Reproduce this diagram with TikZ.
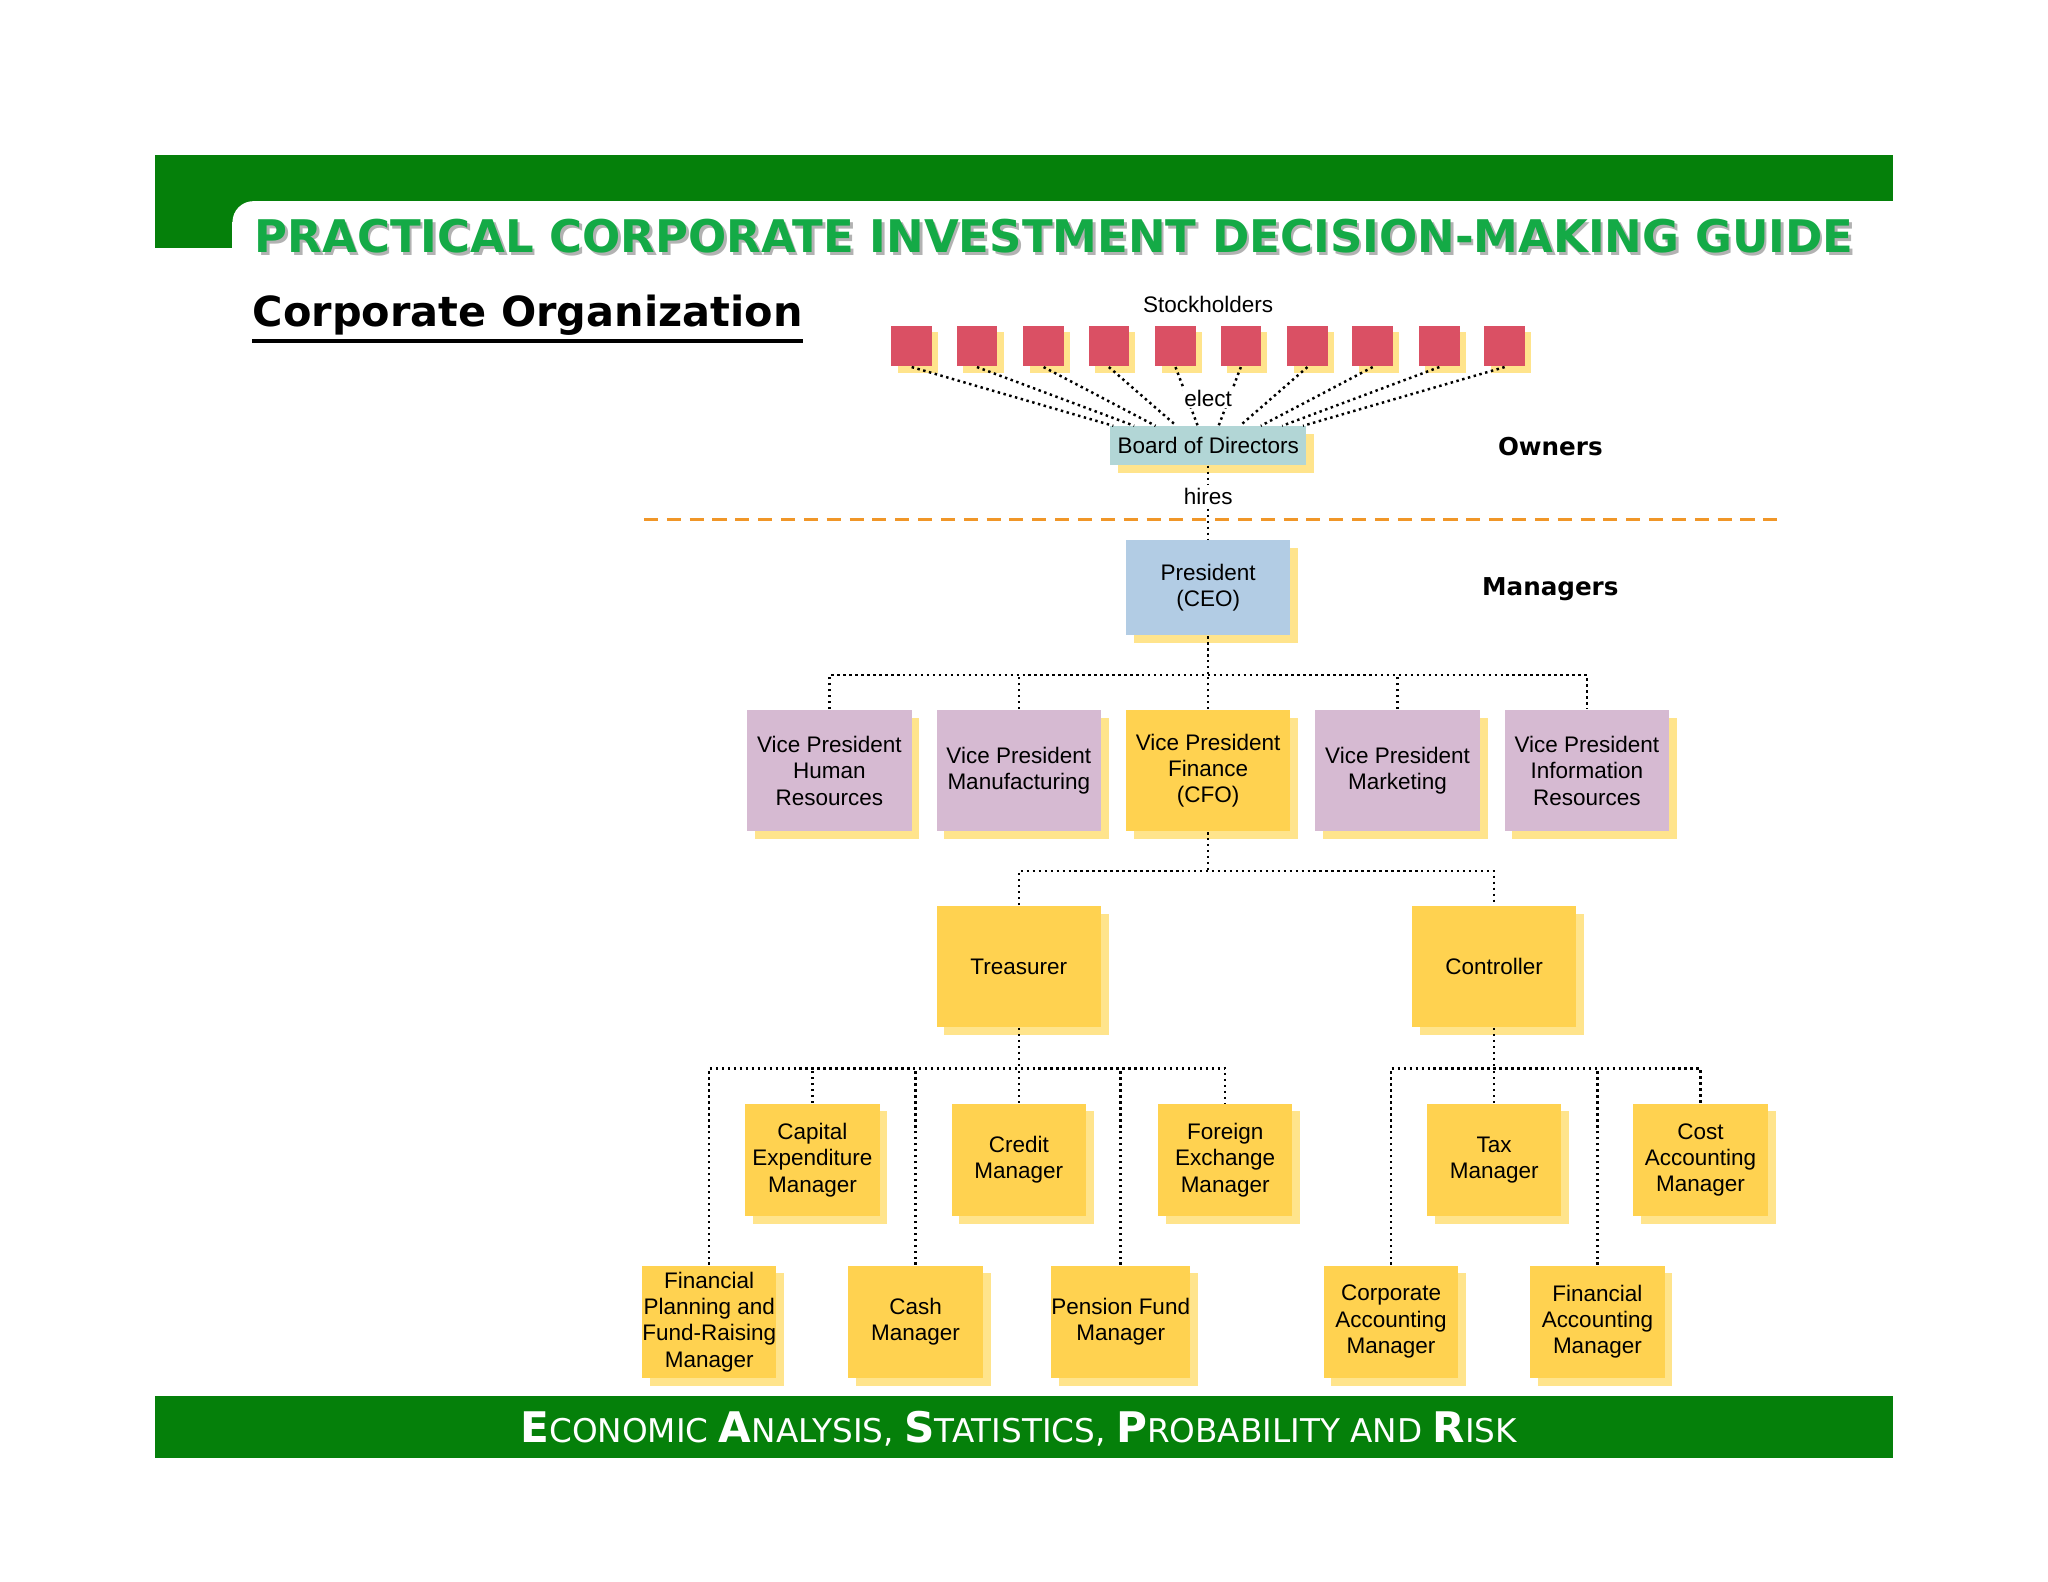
\documentclass[tikz,border=0pt]{standalone}
\usepackage{fontspec}
\setmainfont{Liberation Sans}
\newfontfamily\dv{DejaVu Sans}
\usetikzlibrary{shadows}
\def\u{0.3716pt}
\definecolor{gbar}{RGB}{5,128,10}
\definecolor{gtitle}{RGB}{20,170,70}
\definecolor{sq}{RGB}{218,80,100}
\definecolor{shy}{RGB}{255,228,140}
\definecolor{teal}{RGB}{178,214,214}
\definecolor{blu}{RGB}{178,204,228}
\definecolor{pur}{RGB}{214,186,210}
\definecolor{yel}{RGB}{255,210,80}
\definecolor{org}{RGB}{240,150,40}
\tikzset{
 box/.style={draw=none,align=center,font=\fontsize{6.4}{7.5}\selectfont,inner sep=0pt,
   drop shadow={fill=shy,opacity=1,shadow xshift=2.2pt,shadow yshift=-2.2pt}},
 vp/.style={box,minimum width=126*\u,minimum height=93*\u},
 lv/.style={box,fill=yel,minimum width=103*\u,minimum height=86*\u},
 sqs/.style={fill=sq,minimum size=31*\u,inner sep=0pt,
   drop shadow={fill=shy,opacity=1,shadow xshift=1.8pt,shadow yshift=-1.8pt}},
 con/.style={densely dotted,line width=0.7pt},
 lbl/.style={font=\fontsize{6.4}{7.5}\selectfont,inner sep=1pt}
}
\begin{document}
\begin{tikzpicture}[x=0.01306cm,y=-0.01306cm]
\useasboundingbox (0,0) rectangle (1568,1211);
% header
\fill[gbar] (119,119) rectangle (1449,154);
\fill[gbar] (119,154) rectangle (178,190);
\fill[gbar] (178,154) rectangle (195,170);
\fill[white] (178,190) -- (178,170) arc[start angle=180,end angle=270,radius=16] -- (1449,154) -- (1449,190) -- cycle;
\node[text=gray!60,font=\dv\bfseries\fontsize{12.8}{15}\selectfont] at (809,183) {PRACTICAL CORPORATE INVESTMENT DECISION-MAKING GUIDE};
\node[text=gtitle,font=\dv\bfseries\fontsize{12.8}{15}\selectfont] (title) at (807,181) {PRACTICAL CORPORATE INVESTMENT DECISION-MAKING GUIDE};
\node[font=\dv\bfseries\fontsize{11.8}{14}\selectfont,inner sep=0pt] (sub) at (404,241) {Corporate Organization};
\draw[line width=1pt] ([yshift=-1.5pt]sub.south west) -- ([yshift=-1.5pt]sub.south east);
% footer
\fill[gbar] (119,1069) rectangle (1449,1116);
\node[text=white,font=\dv\fontsize{9.3}{10}\selectfont] (foot) at (780,1094)
 {{\fontsize{12}{12}\selectfont\bfseries E}CONOMIC {\fontsize{12}{12}\selectfont\bfseries A}NALYSIS, {\fontsize{12}{12}\selectfont\bfseries S}TATISTICS, {\fontsize{12}{12}\selectfont\bfseries P}ROBABILITY AND {\fontsize{12}{12}\selectfont\bfseries R}ISK};
% owners
\node[lbl] (stk) at (925,233) {Stockholders};
\node[box,fill=teal,minimum width=150*\u,minimum height=30*\u] (bod) at (925,341) {Board of Directors};
\foreach \i/\x in {1/698,2/748,3/799,4/849,5/900,6/950,7/1001,8/1051,9/1102,10/1152}{
  \node[sqs] (s\i) at (\x,265) {};
  \coordinate (b\i) at ({925+(\x-925)*0.32},326);
  \draw[con] (s\i.south) -- (b\i);
}
\node[lbl,fill=white,inner sep=0.5pt] (elect) at (925,305) {elect};
\node[lbl] (hires) at (925,380) {hires};
\draw[dashed,org,line width=0.8pt,dash pattern=on 4pt off 2.5pt] (493,398) -- (1362,398);
\node[font=\dv\bfseries\fontsize{7}{8}\selectfont] (own) at (1187,342) {Owners};
\node[font=\dv\bfseries\fontsize{7}{8}\selectfont] (man) at (1187,451) {Managers};
\node[box,fill=blu,minimum width=126*\u,minimum height=73*\u] (ceo) at (925,450) {President\\(CEO)};
\draw[con] (bod.south) -- (hires.north);
\draw[con] (hires.south) -- (ceo.north);
% VPs
\node[vp,fill=pur] (v1) at (635,590) {Vice President\\Human\\Resources};
\node[vp,fill=pur] (v2) at (780,590) {Vice President\\Manufacturing};
\node[vp,fill=yel] (v3) at (925,590) {Vice President\\Finance\\(CFO)};
\node[vp,fill=pur] (v4) at (1070,590) {Vice President\\Marketing};
\node[vp,fill=pur] (v5) at (1215,590) {Vice President\\Information\\Resources};
\draw[con] (ceo.south) -- (925,517);
\draw[con] (v1.north) |- (v5.north |- 0,517) -- (v5.north);
\foreach \v in {v2,v3,v4} \draw[con] (\v.north) -- (\v.north |- 0,517);
% treasurer/controller
\node[box,fill=yel,minimum width=126*\u,minimum height=93*\u] (tr) at (780,740) {Treasurer};
\node[box,fill=yel,minimum width=126*\u,minimum height=93*\u] (ct) at (1144,740) {Controller};
\draw[con] (v3.south) -- (925,667);
\draw[con] (tr.north) |- (ct.north |- 0,667) -- (ct.north);
% level boxes
\node[lv] (cap) at (622,888) {Capital\\Expenditure\\Manager};
\node[lv] (cre) at (780,888) {Credit\\Manager};
\node[lv] (fx) at (938,888) {Foreign\\Exchange\\Manager};
\node[lv] (tax) at (1144,888) {Tax\\Manager};
\node[lv] (cost) at (1302,888) {Cost\\Accounting\\Manager};
\node[lv] (fp) at (543,1012) {Financial\\Planning and\\Fund-Raising\\Manager};
\node[lv] (cash) at (701,1012) {Cash\\Manager};
\node[lv] (pen) at (858,1012) {Pension Fund\\Manager};
\node[lv] (corp) at (1065,1012) {Corporate\\Accounting\\Manager};
\node[lv] (fin) at (1223,1012) {Financial\\Accounting\\Manager};
\draw[con] (tr.south) -- (780,818);
\draw[con] (fp.north) |- (fx.north |- 0,818) -- (fx.north);
\foreach \v in {cap,cre,cash,pen} \draw[con] (\v.north) -- (\v.north |- 0,818);
\draw[con] (ct.south) -- (1144,818);
\draw[con] (corp.north) |- (cost.north |- 0,818) -- (cost.north);
\foreach \v in {tax,fin} \draw[con] (\v.north) -- (\v.north |- 0,818);
\end{tikzpicture}
\end{document}
